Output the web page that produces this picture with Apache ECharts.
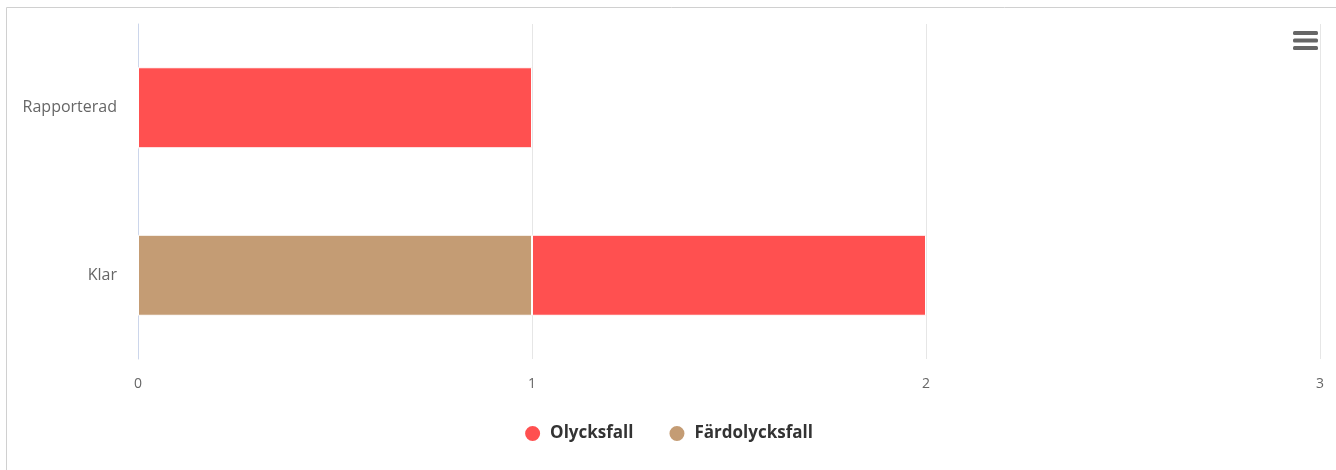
<!DOCTYPE html>
<html><head><meta charset="utf-8">
<script src="https://cdn.jsdelivr.net/npm/echarts@6/dist/echarts.min.js"></script>
<style>html,body{margin:0;padding:0;background:#fff}#c{width:1336px;height:470px}</style>
</head><body><div id="c"></div>
<script>
const categories = ['Klar', 'Rapporterad'];
const olycksfall = [1, 1];
const fardolycksfall = [1, 0];
const xTicks = [0, 1, 2, 3];

const chart = echarts.init(document.getElementById('c'));
chart.setOption({
  animation: false,
  textStyle: { fontFamily: 'Open Sans, DejaVu Sans, sans-serif' },
  grid: { left: 138, right: 16, top: 24, bottom: 111, containLabel: false },
  legend: {
    data: ['Olycksfall', 'Färdolycksfall'],
    bottom: 22, left: 'center',
    icon: 'circle', itemWidth: 17, itemHeight: 17, itemGap: 34,
    textStyle: { color: '#333', fontSize: 17, fontWeight: 'bold', fontFamily: 'Open Sans, sans-serif', padding: [0, 0, 0, 4] }
  },
  xAxis: {
    type: 'value', min: xTicks[0], max: xTicks[xTicks.length - 1], interval: 1,
    axisLine: { show: false }, axisTick: { show: false },
    splitLine: { lineStyle: { color: '#e6e6e6' } },
    axisLabel: { color: '#666', fontSize: 14, margin: 18 }
  },
  yAxis: {
    type: 'category', data: categories,
    axisLine: { show: true, lineStyle: { color: '#ccd6eb' } },
    axisTick: { show: false },
    axisLabel: { color: '#666', fontSize: 16, margin: 21 }
  },
  series: [
    { name: 'Färdolycksfall', type: 'bar', stack: 's', data: fardolycksfall, barWidth: 81,
      itemStyle: { color: '#c49c74', borderColor: '#fff', borderWidth: 1 } },
    { name: 'Olycksfall', type: 'bar', stack: 's', data: olycksfall, barWidth: 81,
      itemStyle: { color: '#ff5050', borderColor: '#fff', borderWidth: 1 } }
  ],
  graphic: [
    { type: 'rect', shape: { x: 6.5, y: 7.5, width: 1340, height: 480 }, style: { fill: 'none', stroke: '#d0d0d0', lineWidth: 1 }, silent: true },
    { type: 'rect', shape: { x: 1293, y: 31, width: 25, height: 4, r: 1.5 }, style: { fill: '#666' } },
    { type: 'rect', shape: { x: 1293, y: 38.5, width: 25, height: 4, r: 1.5 }, style: { fill: '#666' } },
    { type: 'rect', shape: { x: 1293, y: 46, width: 25, height: 4, r: 1.5 }, style: { fill: '#666' } }
  ]
});
</script></body></html>
